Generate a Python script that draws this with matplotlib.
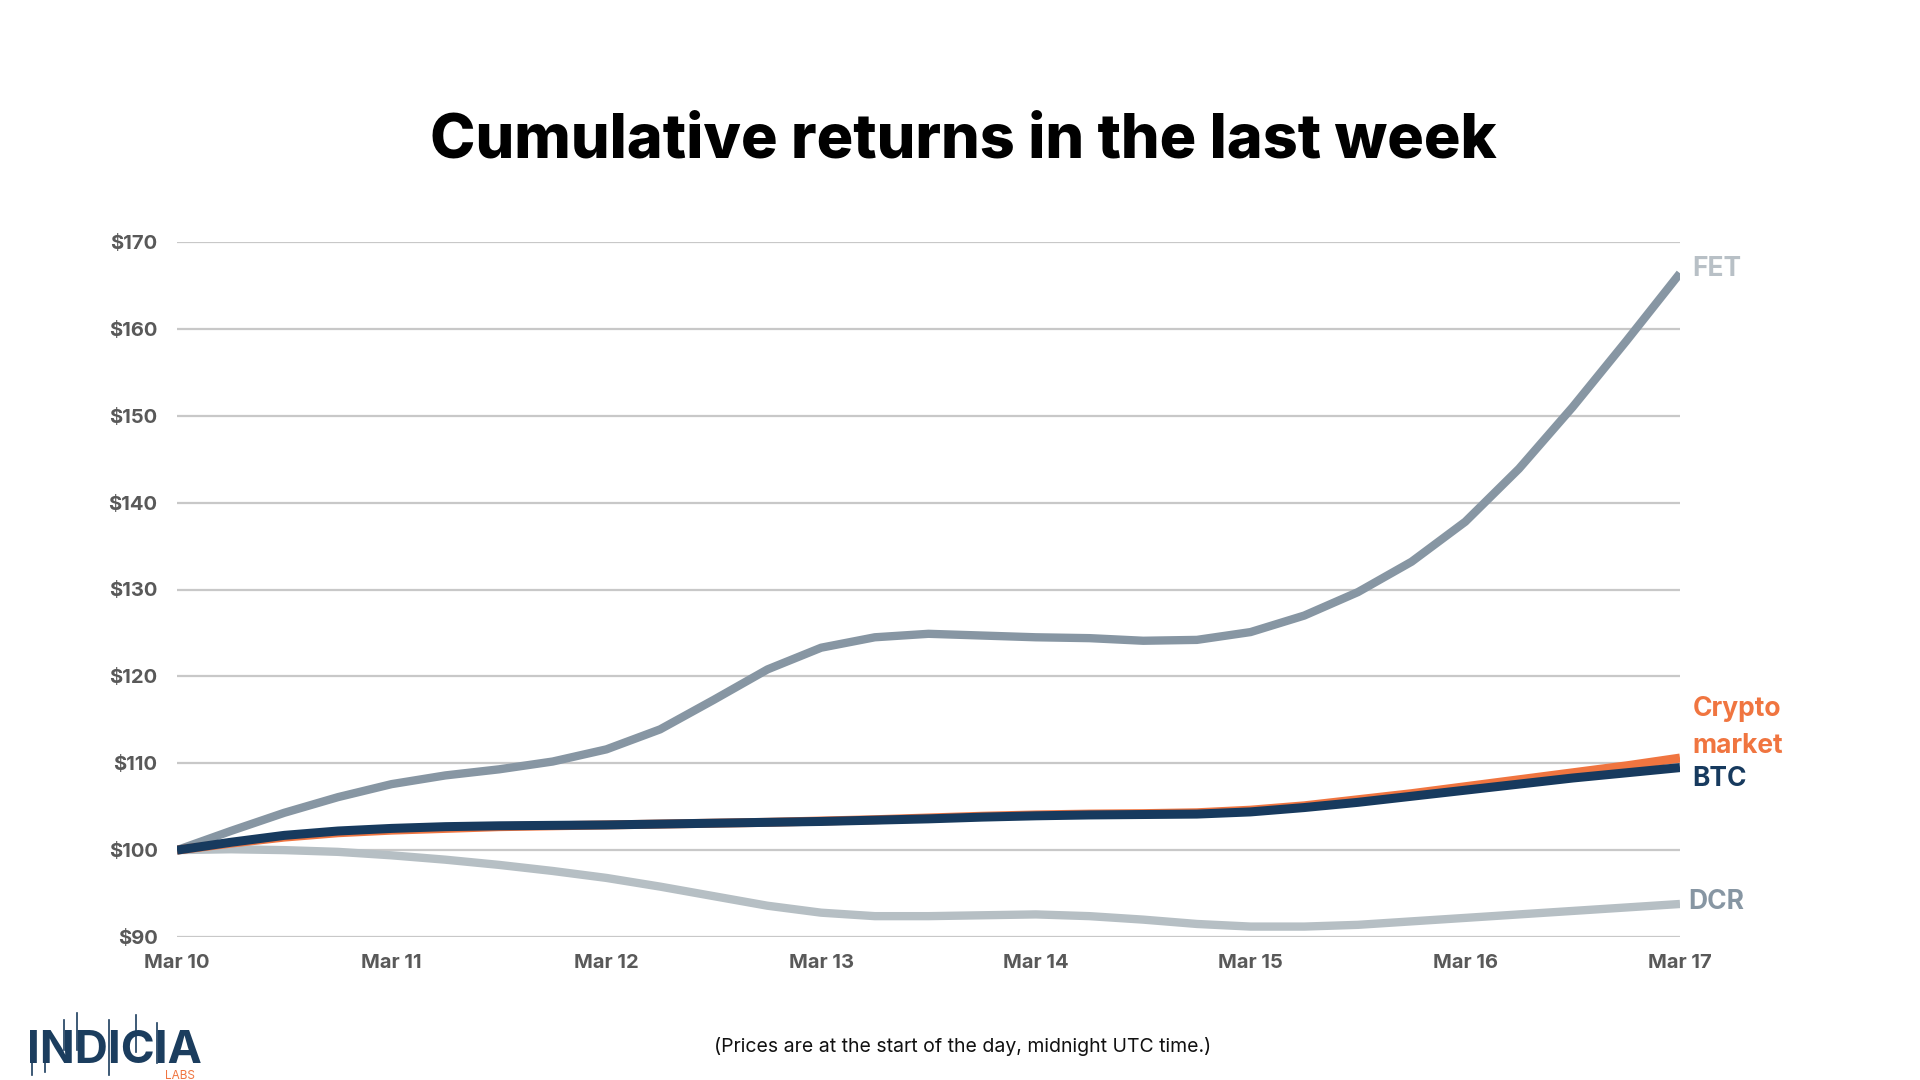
import matplotlib
matplotlib.use('Agg')
import matplotlib.pyplot as plt
from matplotlib.lines import Line2D

plt.rcParams['font.family'] = ['Inter', 'DejaVu Sans']

# days since Mar 10, quarter-day readings
days = [i * 0.25 for i in range(29)]
day_labels = ['Mar 10', 'Mar 11', 'Mar 12', 'Mar 13', 'Mar 14', 'Mar 15', 'Mar 16', 'Mar 17']

fet = [100, 102.2, 104.3, 106.1, 107.6, 108.6, 109.3, 110.2, 111.6, 113.9, 117.3, 120.8,
       123.3, 124.5, 124.9, 124.7, 124.5, 124.4, 124.1, 124.2, 125.1, 127.0, 129.7, 133.2,
       137.8, 143.9, 151.0, 158.6, 166.4]
crypto = [100, 100.8, 101.5, 102.0, 102.3, 102.5, 102.7, 102.8, 102.9, 103.0, 103.1, 103.2,
          103.35, 103.5, 103.7, 103.9, 104.05, 104.15, 104.2, 104.3, 104.6, 105.1, 105.8, 106.5,
          107.3, 108.1, 108.9, 109.7, 110.6]
btc = [100, 100.9, 101.7, 102.2, 102.5, 102.7, 102.8, 102.85, 102.9, 103.0, 103.1, 103.2,
       103.3, 103.45, 103.6, 103.8, 103.95, 104.05, 104.1, 104.15, 104.4, 104.9, 105.5, 106.2,
       106.9, 107.6, 108.3, 108.9, 109.5]
dcr = [100, 100.1, 100.0, 99.8, 99.4, 98.9, 98.3, 97.6, 96.8, 95.8, 94.7, 93.6,
       92.8, 92.4, 92.4, 92.5, 92.6, 92.4, 92.0, 91.5, 91.2, 91.2, 91.4, 91.8,
       92.2, 92.6, 93.0, 93.4, 93.8]
y_ticks = [90, 100, 110, 120, 130, 140, 150, 160, 170]

NAVY = '#173a5e'
ORANGE = '#f07540'
FET_LINE = '#8796a3'
DCR_LINE = '#b6bfc4'

fig = plt.figure(figsize=(19.2, 10.8), dpi=100)
ax = fig.add_axes([177 / 1920, 1 - 937 / 1080, 1503 / 1920, 695 / 1080])

line_kw = dict(solid_capstyle='butt', solid_joinstyle='round')
ax.plot(days, dcr, color=DCR_LINE, lw=6, zorder=3, **line_kw)
ax.plot(days, fet, color=FET_LINE, lw=6, zorder=3, **line_kw)
ax.plot(days, crypto, color=ORANGE, lw=6.5, zorder=4, **line_kw)
ax.plot(days, btc, color=NAVY, lw=6.5, zorder=5, **line_kw)

ax.set_xlim(0, 7)
ax.set_ylim(90, 170)
ax.set_yticks(y_ticks)
ax.set_yticklabels(['$%d' % v for v in y_ticks])
ax.set_xticks(range(len(day_labels)))
ax.set_xticklabels(day_labels)
ax.grid(axis='y', color='#c8c8c8', lw=1.6)
ax.set_axisbelow(True)
for s in ax.spines.values():
    s.set_visible(False)
ax.tick_params(length=0, labelsize=14.5, labelcolor='#595959')
ax.tick_params(axis='y', pad=14)
ax.tick_params(axis='x', pad=12)
for lab in ax.get_xticklabels() + ax.get_yticklabels():
    lab.set_fontweight('bold')

# end labels
lab_kw = dict(textcoords='offset points', fontsize=19, fontweight='bold',
              ha='left', va='center', annotation_clip=False)
ax.annotate('FET', xy=(7, fet[-1]), xytext=(9, 3), color='#b8c0c6', **lab_kw)
ax.annotate('Crypto\nmarket', xy=(7, crypto[-1]), xytext=(9, 22), color=ORANGE,
            linespacing=1.55, **lab_kw)
ax.annotate('BTC', xy=(7, btc[-1]), xytext=(9, -8), color=NAVY, **lab_kw)
ax.annotate('DCR', xy=(7, dcr[-1]), xytext=(6, 1.5), color=FET_LINE, **lab_kw)

fig.text(963 / 1920, 1 - 141 / 1080, 'Cumulative returns in the last week',
         ha='center', va='center', fontsize=44, fontweight='heavy', color='black')
fig.text(963 / 1920, 1 - 1047 / 1080, '(Prices are at the start of the day, midnight UTC time.)',
         ha='center', va='center', fontsize=14, color='#111111')

# logo
fig.text(27 / 1920, 1 - 1063 / 1080, 'INDICIA', ha='left', va='baseline',
         fontsize=33, fontweight='bold', color='#1b3d5e')
fig.text(165 / 1920, 1 - 1079 / 1080, 'LABS', ha='left', va='baseline',
         fontsize=8.5, color=ORANGE)
for x, y0, y1 in [(32, 1060, 1075), (45, 1062, 1072), (64, 1020, 1050), (77, 1013, 1050),
                  (109, 1020, 1075), (136, 1015, 1052), (157, 1023, 1063)]:
    fig.add_artist(Line2D([x / 1920, x / 1920], [1 - y0 / 1080, 1 - y1 / 1080],
                          transform=fig.transFigure, color='#1b3d5e', lw=1.2))

fig.savefig('out.png', dpi=100, facecolor='white')
